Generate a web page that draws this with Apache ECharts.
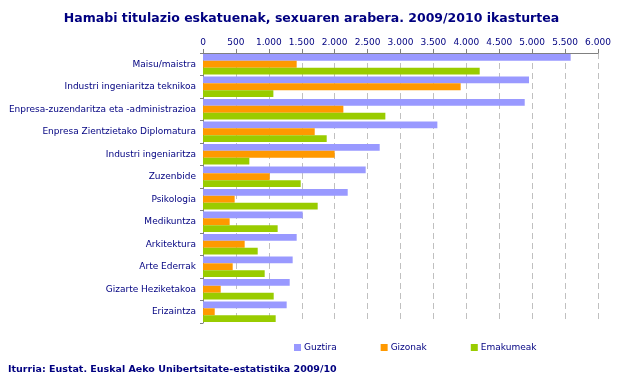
<!DOCTYPE html>
<html><head><meta charset="utf-8">
<script src="https://cdn.jsdelivr.net/npm/echarts@6/dist/echarts.min.js"></script>
<style>html,body{margin:0;padding:0;background:#fff}#c{width:623px;height:385px}</style>
</head><body><div id="c"></div>
<script>
var categories = ["Maisu/maistra","Industri ingeniaritza teknikoa","Enpresa-zuzendaritza eta -administrazioa","Enpresa Zientzietako Diplomatura","Industri ingeniaritza","Zuzenbide","Psikologia","Medikuntza","Arkitektura","Arte Ederrak","Gizarte Heziketakoa","Erizaintza"];
var guztira   = [5585,4952,4887,3560,2684,2471,2198,1514,1423,1362,1317,1271];
var gizonak   = [1423,3914,2132,1697,2000,1013,481,405,633,451,269,178];
var emakumeak = [4203,1069,2770,1879,704,1484,1742,1134,831,937,1074,1104];
var seriesNames = ["Guztira","Gizonak","Emakumeak"];
var xTicks = {min:0,max:6000,interval:500};

var navy = '#000080';
var font = 'DejaVu Sans';
var chart = echarts.init(document.getElementById('c'), null, {renderer:'canvas'});
function fmt(v){return String(v).replace(/\B(?=(\d{3})+(?!\d))/g,'.');}
chart.setOption({
  animation:false,
  backgroundColor:'#fff',
  title:{text:'Hamabi titulazio eskatuenak, sexuaren arabera. 2009/2010 ikasturtea',left:'center',top:7,
    textStyle:{color:navy,fontFamily:font,fontSize:12.5,fontWeight:'bold'}},
  graphic:[{type:'text',left:8,top:365,style:{text:'Iturria: Eustat. Euskal Aeko Unibertsitate-estatistika 2009/10',
    fill:navy,font:'bold 9.5px "DejaVu Sans"'}}],
  legend:{data:seriesNames,left:289,top:338,icon:'rect',itemWidth:7,itemHeight:7,itemGap:44,
    textStyle:{color:navy,fontFamily:font,fontSize:9,padding:[0,0,0,-2]}},
  grid:{left:203,right:25,top:53,bottom:62,containLabel:false},
  xAxis:{type:'value',position:'top',min:xTicks.min,max:xTicks.max,interval:xTicks.interval,
    axisLine:{show:true,lineStyle:{color:'#808080'}},
    axisTick:{show:true,length:4,lineStyle:{color:'#808080'}},
    axisLabel:{color:navy,fontFamily:font,fontSize:9,margin:6,formatter:fmt},
    splitLine:{show:true,lineStyle:{color:'#C0C0C0',type:[6,4]}}},
  yAxis:{type:'category',data:categories,inverse:true,
    axisLine:{show:true,lineStyle:{color:'#808080'}},
    axisTick:{show:true,length:3,lineStyle:{color:'#808080'}},
    axisLabel:{color:navy,fontFamily:font,fontSize:9,margin:7}},
  series:[
    {name:seriesNames[0],type:'bar',data:guztira,itemStyle:{color:'#9999FF'},barGap:'0%',barCategoryGap:'8%'},
    {name:seriesNames[1],type:'bar',data:gizonak,itemStyle:{color:'#FF9900'}},
    {name:seriesNames[2],type:'bar',data:emakumeak,itemStyle:{color:'#99CC00'}}
  ]
});
</script></body></html>
